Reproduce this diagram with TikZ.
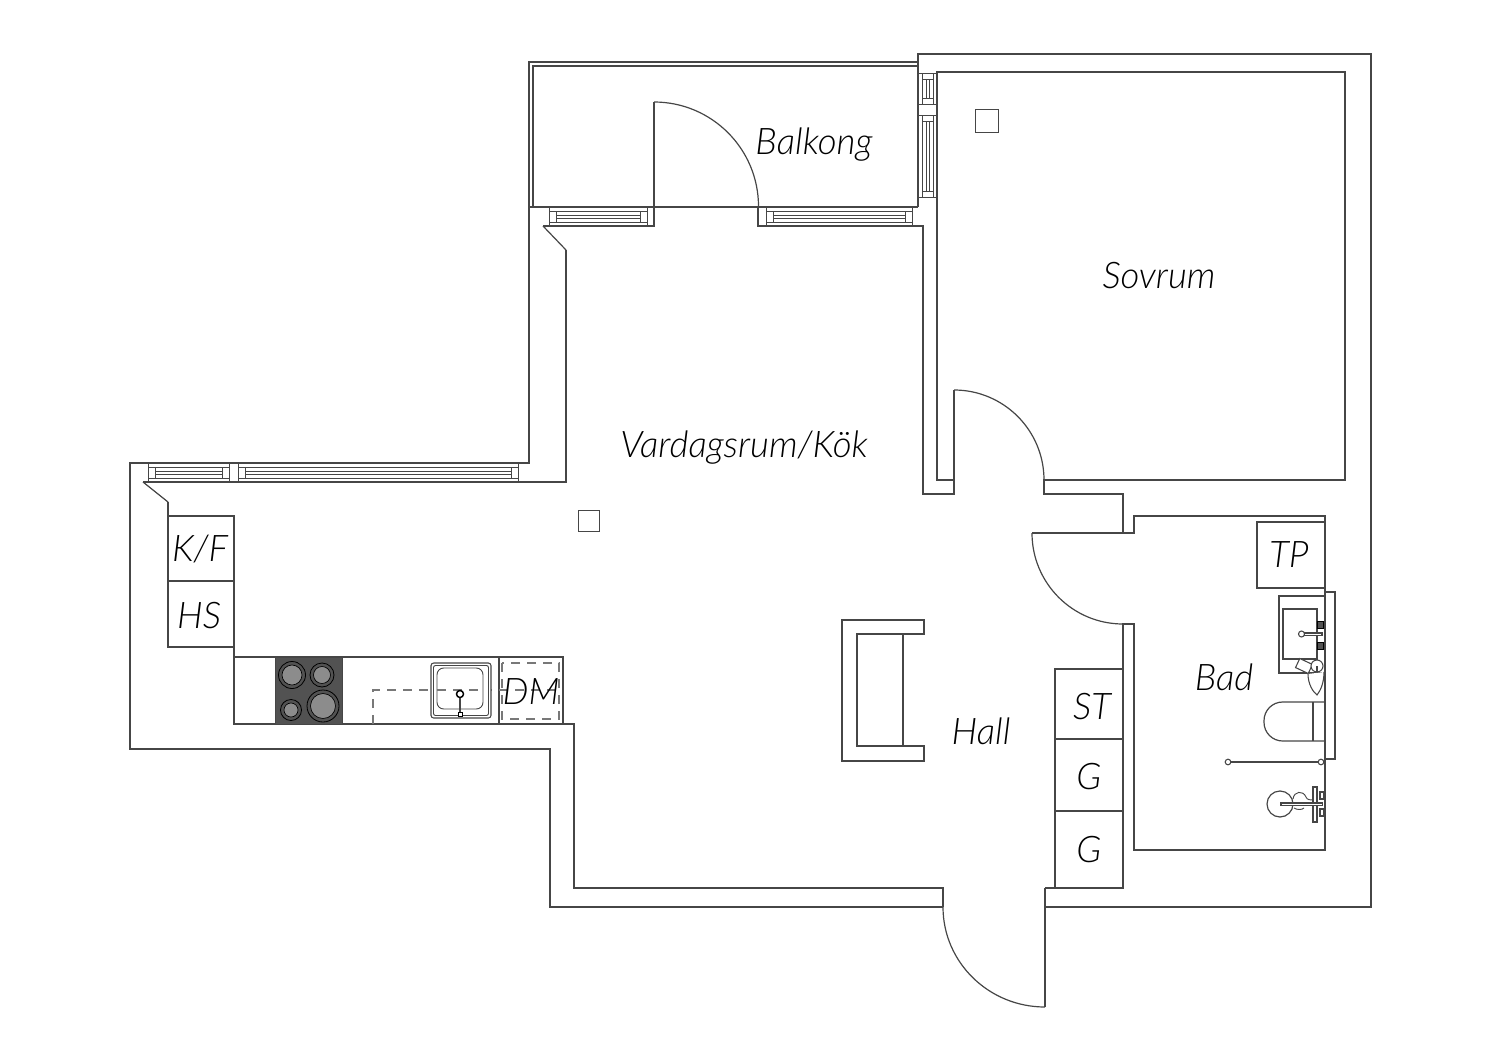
\documentclass[tikz,border=0pt]{standalone}
\usepackage{fontspec}
\setmainfont{Lato Light}[ItalicFont={Lato Light Italic}]
\usepackage{tikz}

\definecolor{wallgray}{RGB}{70,70,70}
\definecolor{dashgray}{RGB}{120,120,120}
\definecolor{hobgray}{RGB}{82,82,82}
\definecolor{ringgray}{RGB}{140,140,140}

\tikzset{
  wall/.style={draw=wallgray,line width=0.9pt,line join=miter},
  fine/.style={draw=wallgray,line width=0.7pt},
  dashline/.style={draw=dashgray,line width=1pt,dash pattern=on 7pt off 5pt},
  rumtext/.style={inner sep=0.75pt,font=\fontsize{27.5}{31}\selectfont\itshape,text=black}
}

\begin{document}
\begin{tikzpicture}[x=0.75pt,y=0.75pt,yscale=-1,xscale=1]
        \useasboundingbox (0,0) rectangle (1500,1060);

        %Outer walls
        \draw [wall] (529,207) -- (529,62) -- (918,62) ;
        \draw [wall] (533,207) -- (533,66) -- (918,66) ;
        \draw [wall] (918,207) -- (918,54) -- (1371,54) -- (1371,907) -- (1045,907) ;
        \draw [wall] (943,907) -- (550,907) -- (550,749) -- (130,749) -- (130,463) -- (529,463) -- (529,207) -- (918,207) ;
        %Inner line, living room and kitchen
        \draw [wall] (1045,888) -- (1123,888) -- (1123,624) -- (1134,624) -- (1134,850) -- (1325,850) -- (1325,516) -- (1134,516) -- (1134,533) -- (1032,533) ;
        \draw [wall] (1123,533) -- (1123,494) -- (1044,494) -- (1044,480) -- (1345,480) -- (1345,72) -- (937,72) -- (937,480) -- (954,480) ;
        \draw [wall] (954,390) -- (954,494) -- (923,494) -- (923,226) -- (758,226) -- (758,207) ;
        \draw [wall] (654,102) -- (654,226) -- (543,226) ;
        \draw [wall] (566,250) -- (566,482) -- (143,482) ;
        \draw [wall] (168,502) -- (168,647) -- (234,647) -- (234,724) -- (574,724) -- (574,888) -- (943,888) -- (943,907) ;
        \draw [wall] (543,226) -- (566,250) ;
        \draw [wall] (143,482) -- (168,502) ;
        %Doors
        \draw [wall] (654,102) arc [start angle=-90,end angle=0,radius=104.5] ;
        \draw [wall] (954,390) arc [start angle=-90,end angle=0,radius=90] ;
        \draw [wall] (1032,533) arc [start angle=180,end angle=90,radius=91] ;
        \draw [wall] (1045,888) -- (1045,1007) ;
        \draw [wall] (1045,1007) arc [start angle=90,end angle=180,x radius=102,y radius=100] ;

        %Windows, horizontal
        \foreach \xa/\xb/\ya in {549/647/207,766/912/207,148/229/463,238/518/463} {
          \draw [fine] (\xa,\ya) -- (\xa,\ya+19) (\xb,\ya) -- (\xb,\ya+19) ;
          \draw [fine] (\xa,\ya+4.5) -- (\xb,\ya+4.5) (\xa,\ya+15) -- (\xb,\ya+15) ;
          \draw [fine] (\xa+7,\ya+4.5) -- (\xa+7,\ya+15) (\xb-7,\ya+4.5) -- (\xb-7,\ya+15) ;
          \draw [fine] (\xa+7,\ya+8) -- (\xb-7,\ya+8) (\xa+7,\ya+11.5) -- (\xb-7,\ya+11.5) ;
        }
        %Windows, vertical
        \foreach \ya/\yb in {73/104,115/197} {
          \draw [fine] (918,\ya) -- (937,\ya) (918,\yb) -- (937,\yb) ;
          \draw [fine] (922.5,\ya) -- (922.5,\yb) (933,\ya) -- (933,\yb) ;
          \draw [fine] (922.5,\ya+6) -- (933,\ya+6) (922.5,\yb-6) -- (933,\yb-6) ;
          \draw [fine] (926,\ya+6) -- (926,\yb-6) (929.5,\ya+6) -- (929.5,\yb-6) ;
        }

        %Columns
        \draw [fine] (975,109) rectangle (998,132) ;
        \draw [fine] (578,510) rectangle (599,531) ;

        %Kitchen
        \draw [wall] (168,516) -- (234,516) -- (234,647) ;
        \draw [wall] (168,581) -- (234,581) ;
        \draw [wall] (234,657) -- (563,657) -- (563,724) ;
        \draw [wall] (499,657) -- (499,724) ;
        %Hob
        \draw [fill=hobgray,draw=wallgray] (275,657) rectangle (342,724) ;
        \foreach \xa/\ya/\ra in {292/675/13.5,322/675/12,291/710/10.5,323/706/16} {
          \draw [fill=hobgray,draw=black,line width=0.6pt] (\xa,\ya) circle [radius=\ra] ;
          \draw [fill=ringgray,draw=black,line width=0.5pt] (\xa,\ya) circle [radius=\ra-3.5] ;
        }
        %Sink
        \draw [dashline] (373,724) -- (373,690) -- (562,690) ;
        \draw [fill=white,draw=wallgray,line width=0.8pt,rounded corners=2pt] (431,663) rectangle (491,718) ;
        \draw [fine,rounded corners=1.5pt] (433.5,665.5) rectangle (488.5,715.5) ;
        \draw [fine,rounded corners=5pt] (437,668) rectangle (483,709) ;
        \draw [dashline] (437,690) -- (483,690) ;
        \draw [draw=wallgray,line width=2pt] (460,698) -- (460,712) ;
        \draw [fill=white,draw=black,line width=1.1pt] (460,694) circle [radius=3.5] ;
        \draw [fill=white,draw=black,line width=0.7pt] (458,712) rectangle (462,716) ;
        \draw [dashline] (502,663) rectangle (559,719) ;

        %Armchair
        \draw [wall] (924,620) -- (842,620) -- (842,761) -- (924,761) -- (924,746) -- (857,746) -- (857,634) -- (924,634) -- cycle ;
        \draw [wall] (903,634) -- (903,746) ;

        %Hall cupboards
        \draw [wall] (1055,888) -- (1055,669) -- (1123,669) ;
        \draw [wall] (1055,739) -- (1123,739) (1055,811) -- (1123,811) ;

        %Bathroom
        \draw [wall] (1325,522) -- (1257,522) -- (1257,588) -- (1325,588) ;
        \draw [wall] (1325,592) -- (1335,592) -- (1335,759) -- (1325,759) ;
        \draw [wall] (1325,596) -- (1279,596) -- (1279,673) -- (1325,673) ;
        \draw [wall] (1283,609) rectangle (1317,659) ;
        \draw [fill=hobgray,draw=black,line width=0.5pt] (1317,621) rectangle (1323,628) (1317,642) rectangle (1323,649) ;
        \draw [draw=wallgray,line width=2.4pt] (1304,634) -- (1323,634) ;
        \draw [draw=white,line width=0.6pt] (1305,634) -- (1321,634) ;
        \draw [fill=white,draw=wallgray,line width=0.8pt] (1301.5,634) circle [radius=3] ;
        \draw [fill=white,draw=wallgray,line width=0.8pt,rotate around={25:(1304,666)}] (1297,661) rectangle (1311,671) ;
        \draw [fill=white,draw=wallgray,line width=0.8pt] (1308,674) .. controls (1308,684) and (1313,692) .. (1317,695) .. controls (1321,690) and (1324,682) .. (1324,672) ;
        \draw [fill=white,draw=wallgray,line width=0.8pt] (1317,666) circle [radius=6] ;
        \draw [draw=wallgray,line width=1.2pt] (1317,666) -- (1317,672) ;
        %Toilet
        \draw [wall,rounded corners=14pt] (1325,702) -- (1264,702) -- (1264,741) -- (1325,741) ;
        \draw [wall] (1313,702) -- (1313,741) ;
        %Shower
        \draw [draw=wallgray,line width=1.6pt] (1228,762) -- (1321,762) ;
        \draw [fill=white,draw=wallgray,line width=0.8pt] (1228,762) circle [radius=2.8] (1321,762) circle [radius=2.8] ;
        \draw [wall] (1280,804) circle [radius=13] ;
        \draw [fine] (1293,799) .. controls (1294,791) and (1303,790) .. (1306,797) .. controls (1307,800) and (1310,800) .. (1315,800) ;
        \draw [fine] (1294,808) .. controls (1297,810) and (1302,810) .. (1304,808) ;
        \draw [fill=white,draw=wallgray,line width=0.8pt] (1313,787) rectangle (1317,822) ;
        \draw [fill=white,draw=wallgray,line width=0.8pt] (1320,792) rectangle (1324,799) (1320,809) rectangle (1324,816) ;
        \draw [draw=wallgray,line width=2.6pt] (1280,804) -- (1323,804) ;
        \draw [draw=white,line width=0.7pt] (1282,804) -- (1322,804) ;

        % Text Node
        \node [rumtext] (balkong) at (814,145) {Balkong};
        % Text Node
        \node [rumtext] (sovrum) at (1159,276) {Sovrum};
        % Text Node
        \node [rumtext] (vardagsrum) at (744,448) {Vardagsrum/Kök};
        % Text Node
        \node [rumtext] (hall) at (981,731) {Hall};
        % Text Node
        \node [rumtext] (bad) at (1224,677) {Bad};
        % Text Node
        \node [rumtext] (kf) at (200,549) {K/F};
        % Text Node
        \node [rumtext] (hs) at (199,616) {HS};
        % Text Node
        \node [rumtext] (dm) at (531,692) {DM};
        % Text Node
        \node [rumtext] (st) at (1092,707) {ST};
        % Text Node
        \node [rumtext] (ga) at (1089,777) {G};
        % Text Node
        \node [rumtext] (gb) at (1089,850) {G};
        % Text Node
        \node [rumtext] (tp) at (1289,555) {TP};

    \end{tikzpicture}
\end{document}
